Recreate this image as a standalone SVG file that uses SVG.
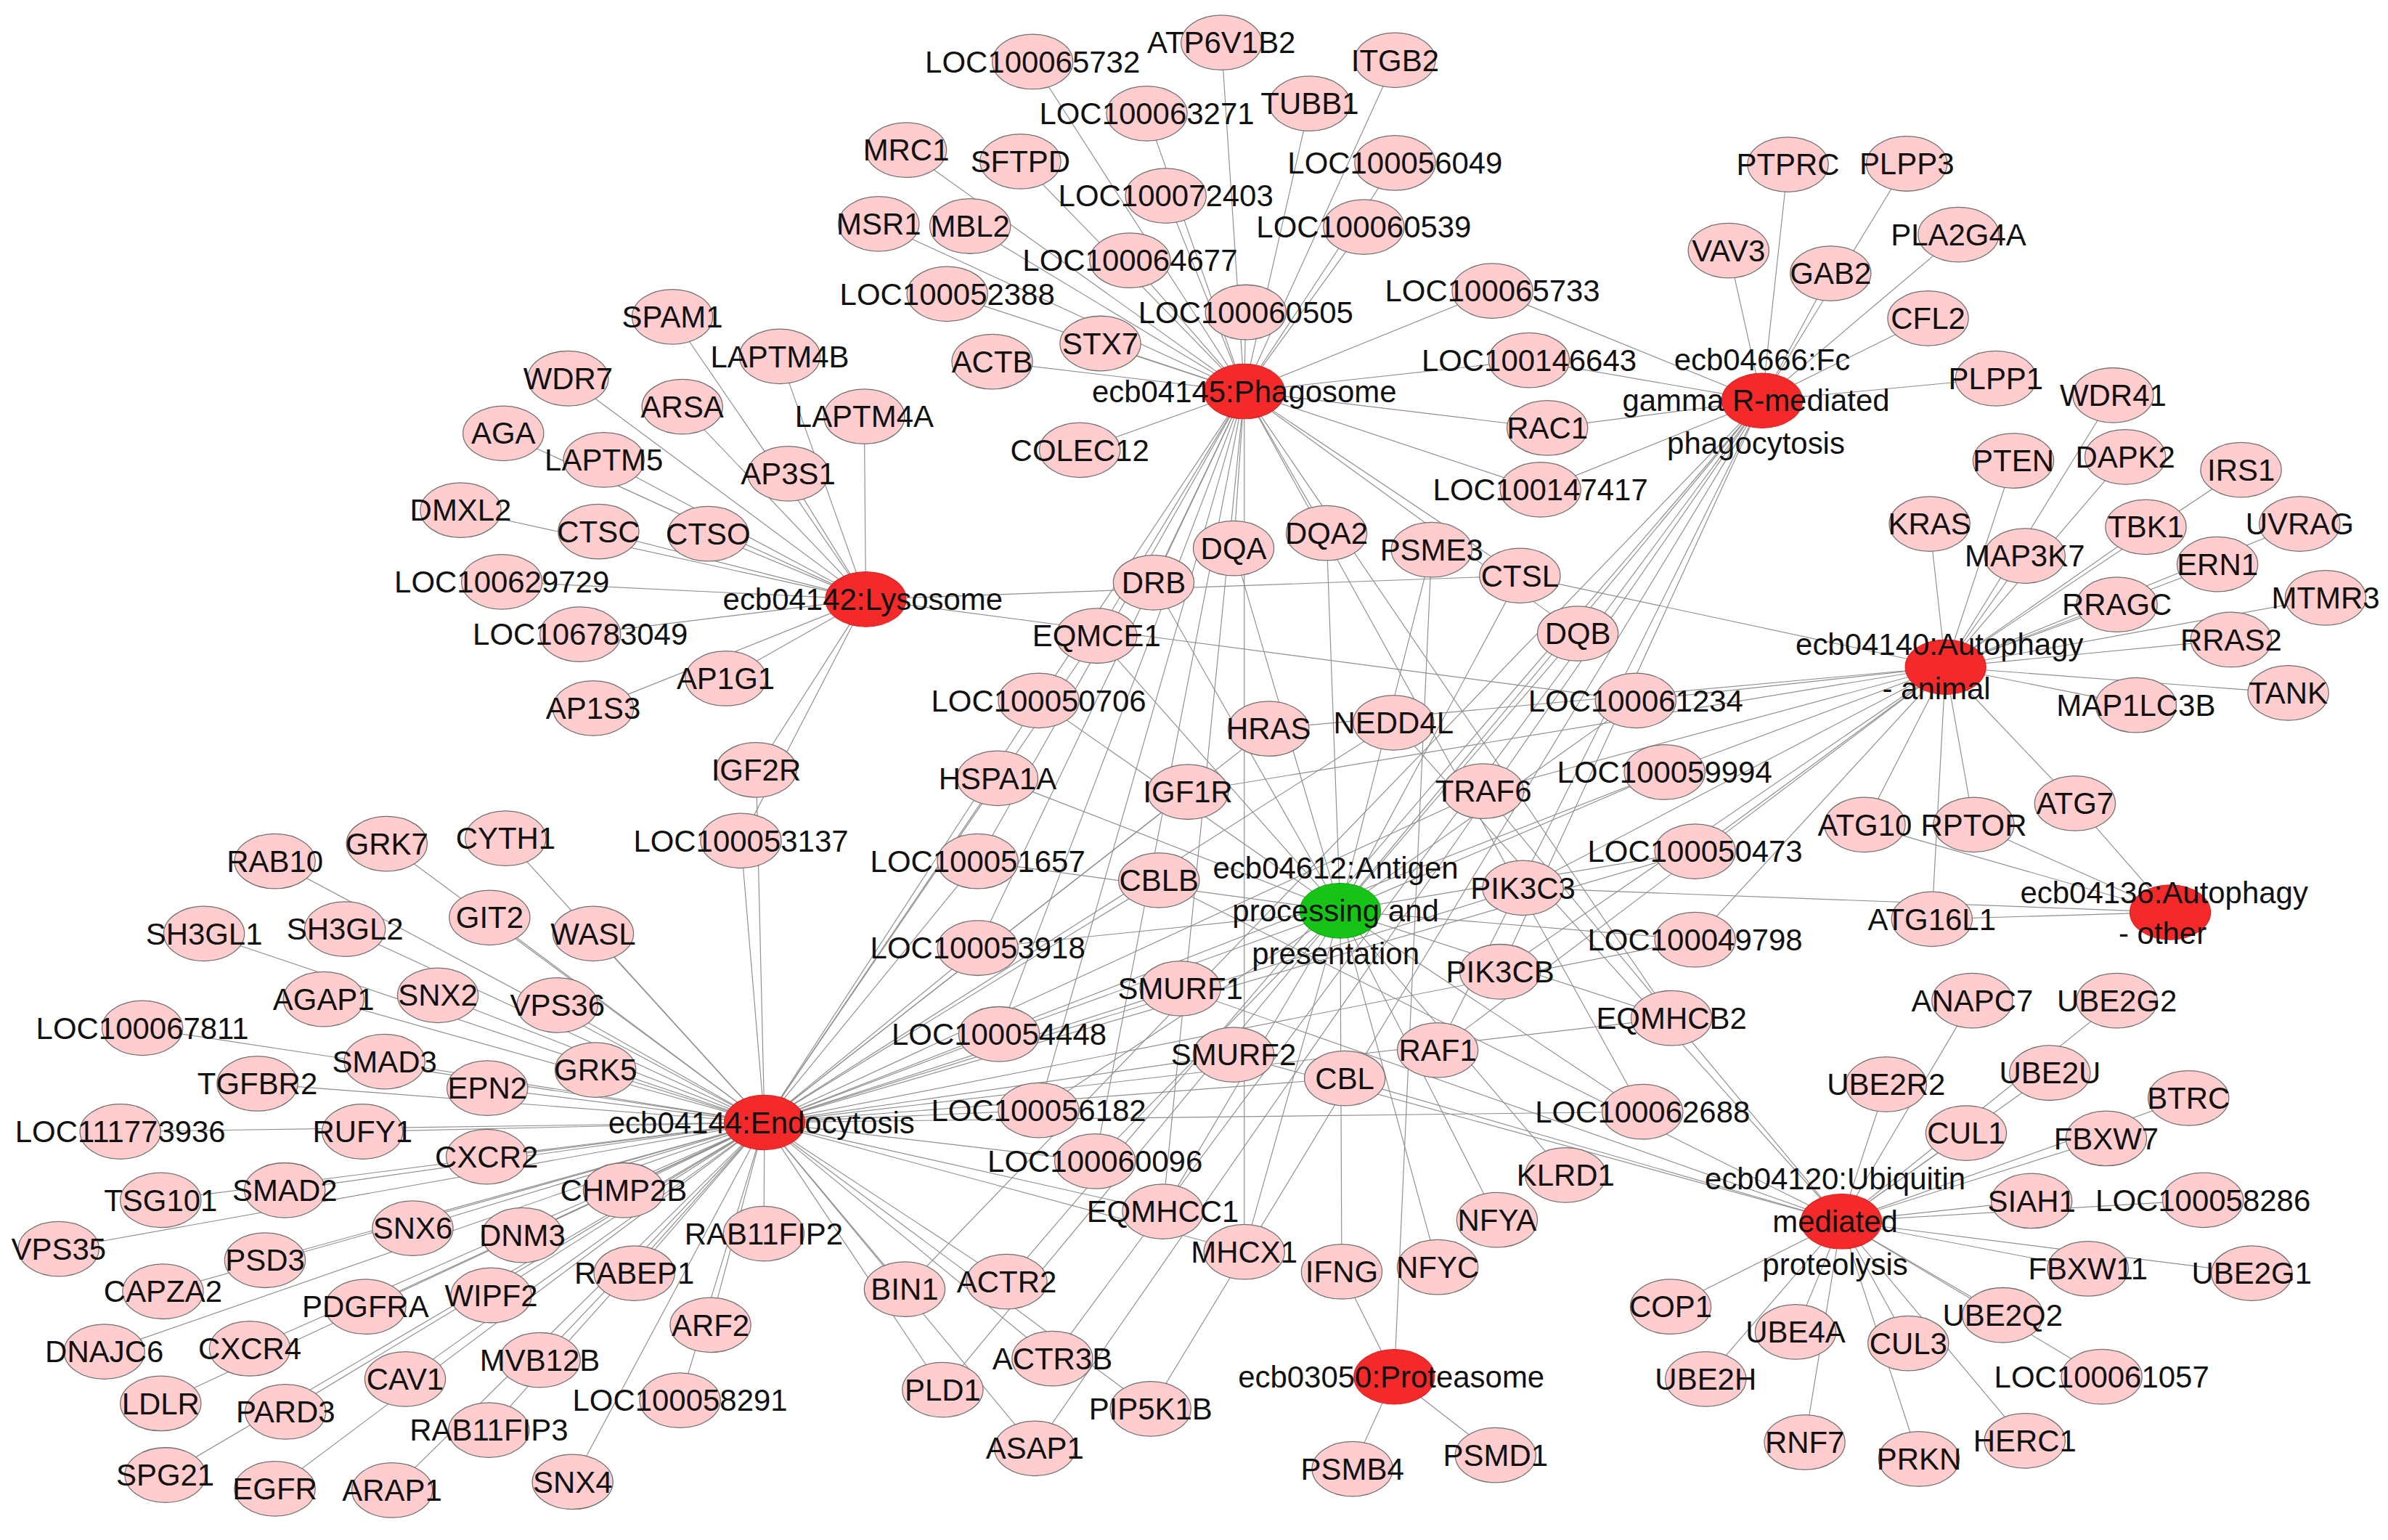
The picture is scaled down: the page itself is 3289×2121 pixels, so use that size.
<svg xmlns="http://www.w3.org/2000/svg" width="3289" height="2121" viewBox="0 0 3289 2121">
<style>
#edges path{stroke:#8e8e8e;stroke-width:.55;fill:none}
.n{fill:#ffcdcd;stroke:#707070;stroke-width:.6}
.h{fill:#f42a2a;stroke:#d42020;stroke-width:.5}
.gr{fill:#16c416;stroke:#10a010;stroke-width:.5}
text{font-family:"Liberation Sans",Arial,sans-serif;font-size:20px;fill:#111;text-anchor:middle}
</style>
<rect width="3289" height="2121" fill="#fff"/>
<g transform="scale(2.09758)">
<g id="edges">
<path d="M678 40.5L817 257"/><path d="M802 28L817 257"/><path d="M916 39.5L817 257"/><path d="M753 74.5L817 257"/><path d="M860 68L817 257"/><path d="M595 98.5L817 257"/><path d="M670 106L817 257"/><path d="M916 107L817 257"/><path d="M765.5 128.5L817 257"/><path d="M577 147L817 257"/><path d="M637 148.5L817 257"/><path d="M895.5 149L817 257"/><path d="M742 171L817 257"/><path d="M622 193L817 257"/><path d="M818 205L817 257"/><path d="M722.5 225.5L817 257"/><path d="M651.5 237.5L817 257"/><path d="M709 295.5L817 257"/><path d="M980 191L817 257"/><path d="M1004 236.5L817 257"/><path d="M1016 281L817 257"/><path d="M1011.5 321.5L817 257"/><path d="M757.5 382.5L817 257"/><path d="M810 360L817 257"/><path d="M871 350L817 257"/><path d="M1036 416L817 257"/><path d="M998 378L817 257"/><path d="M720 417.5L817 257"/><path d="M682 460L817 257"/><path d="M642 565.5L817 257"/><path d="M642 622.5L817 257"/><path d="M1097.5 668.5L817 257"/><path d="M656 679L817 257"/><path d="M1078.5 730L817 257"/><path d="M682 729L817 257"/><path d="M719 762.5L817 257"/><path d="M763.5 795.5L817 257"/><path d="M817 822L817 257"/>
<path d="M980 191L1157 263"/><path d="M1004 236.5L1157 263"/><path d="M1016 281L1157 263"/><path d="M1011.5 321.5L1157 263"/><path d="M1174 108L1157 263"/><path d="M1252 107.5L1157 263"/><path d="M1286 154L1157 263"/><path d="M1135 164.5L1157 263"/><path d="M1202 179.5L1157 263"/><path d="M1266 209L1157 263"/><path d="M1310.5 248.5L1157 263"/><path d="M985 638L1157 263"/><path d="M944 689.5L1157 263"/><path d="M594 846.5L1157 263"/><path d="M661 841.5L1157 263"/><path d="M691 892L1157 263"/><path d="M619 912.5L1157 263"/><path d="M755.5 925L1157 263"/><path d="M679.5 951L1157 263"/>
<path d="M441.5 208L568.5 393.5"/><path d="M512 234L568.5 393.5"/><path d="M373 248.5L568.5 393.5"/><path d="M448 267L568.5 393.5"/><path d="M567.5 273.5L568.5 393.5"/><path d="M330.5 284.5L568.5 393.5"/><path d="M396.5 302L568.5 393.5"/><path d="M517.5 311L568.5 393.5"/><path d="M302.5 335L568.5 393.5"/><path d="M393 349L568.5 393.5"/><path d="M465 350.5L568.5 393.5"/><path d="M329.5 382L568.5 393.5"/><path d="M381 416.5L568.5 393.5"/><path d="M476.5 445.5L568.5 393.5"/><path d="M389.5 465L568.5 393.5"/><path d="M496.5 505.5L568.5 393.5"/><path d="M486.5 552L568.5 393.5"/><path d="M998 378L568.5 393.5"/><path d="M1074 460L568.5 393.5"/>
<path d="M1387.5 259.5L1277.5 438"/><path d="M1322 302.5L1277.5 438"/><path d="M1395.5 300L1277.5 438"/><path d="M1471.5 308.5L1277.5 438"/><path d="M1267 344L1277.5 438"/><path d="M1510 344L1277.5 438"/><path d="M1409 346L1277.5 438"/><path d="M1329.5 365L1277.5 438"/><path d="M1456 370.5L1277.5 438"/><path d="M1390 397L1277.5 438"/><path d="M1527 392.5L1277.5 438"/><path d="M1465 420L1277.5 438"/><path d="M1502.5 455L1277.5 438"/><path d="M1402.5 463L1277.5 438"/><path d="M1362.5 527.5L1277.5 438"/><path d="M1224.5 541.5L1277.5 438"/><path d="M1296 541.5L1277.5 438"/><path d="M1268.5 603.5L1277.5 438"/><path d="M998 378L1277.5 438"/><path d="M1074 460L1277.5 438"/><path d="M833 478.5L1277.5 438"/><path d="M780 520L1277.5 438"/><path d="M974 519.5L1277.5 438"/><path d="M1093 507L1277.5 438"/><path d="M1113 559L1277.5 438"/><path d="M1000 583L1277.5 438"/><path d="M1113 617L1277.5 438"/><path d="M985 638L1277.5 438"/><path d="M944 689.5L1277.5 438"/>
<path d="M1362.5 527.5L1425 599"/><path d="M1224.5 541.5L1425 599"/><path d="M1296 541.5L1425 599"/><path d="M1268.5 603.5L1425 599"/><path d="M1000 583L1425 599"/>
<path d="M757.5 382.5L880 598"/><path d="M810 360L880 598"/><path d="M871 350L880 598"/><path d="M940 361L880 598"/><path d="M998 378L880 598"/><path d="M720 417.5L880 598"/><path d="M1036 416L880 598"/><path d="M682 460L880 598"/><path d="M1074 460L880 598"/><path d="M655 511L880 598"/><path d="M1093 507L880 598"/><path d="M642 565.5L880 598"/><path d="M1113 559L880 598"/><path d="M642 622.5L880 598"/><path d="M1113 617L880 598"/><path d="M1097.5 668.5L880 598"/><path d="M656 679L880 598"/><path d="M1078.5 730L880 598"/><path d="M682 729L880 598"/><path d="M1028 771.5L880 598"/><path d="M719 762.5L880 598"/><path d="M763.5 795.5L880 598"/><path d="M983 801L880 598"/><path d="M817 822L880 598"/><path d="M881 835L880 598"/><path d="M944 832L880 598"/>
<path d="M180.5 565.5L502 737"/><path d="M254 554L502 737"/><path d="M332 550.5L502 737"/><path d="M134 613L502 737"/><path d="M226.5 610L502 737"/><path d="M321.5 602.5L502 737"/><path d="M389.5 613L502 737"/><path d="M212.5 656L502 737"/><path d="M287.5 653.5L502 737"/><path d="M366 660L502 737"/><path d="M93.5 675L502 737"/><path d="M252.5 697L502 737"/><path d="M391 702.5L502 737"/><path d="M169 711.5L502 737"/><path d="M320 714.5L502 737"/><path d="M79 743L502 737"/><path d="M238 743L502 737"/><path d="M319.5 759.5L502 737"/><path d="M105.5 788L502 737"/><path d="M187 781.5L502 737"/><path d="M409.5 781.5L502 737"/><path d="M271 806.5L502 737"/><path d="M343 811L502 737"/><path d="M38.5 820L502 737"/><path d="M501.5 810L502 737"/><path d="M174 827.5L502 737"/><path d="M416.5 836L502 737"/><path d="M107 848L502 737"/><path d="M240 858L502 737"/><path d="M322.5 850.5L502 737"/><path d="M466.5 870L502 737"/><path d="M68.5 887.5L502 737"/><path d="M164 885.5L502 737"/><path d="M354.5 893L502 737"/><path d="M266 905.5L502 737"/><path d="M105.5 921.5L502 737"/><path d="M187.5 927L502 737"/><path d="M446.5 919.5L502 737"/><path d="M321 939L502 737"/><path d="M108.5 968.5L502 737"/><path d="M180.5 977.5L502 737"/><path d="M257.5 978.5L502 737"/><path d="M376 973L502 737"/>
<path d="M496.5 505.5L502 737"/><path d="M486.5 552L502 737"/><path d="M720 417.5L502 737"/><path d="M682 460L502 737"/><path d="M833 478.5L502 737"/><path d="M915 474.5L502 737"/><path d="M655 511L502 737"/><path d="M780 520L502 737"/><path d="M974 519.5L502 737"/><path d="M1093 507L502 737"/><path d="M642 565.5L502 737"/><path d="M761 578L502 737"/><path d="M1113 559L502 737"/><path d="M1000 583L502 737"/><path d="M642 622.5L502 737"/><path d="M1113 617L502 737"/><path d="M775 649L502 737"/><path d="M1097.5 668.5L502 737"/><path d="M656 679L502 737"/><path d="M810 692.5L502 737"/><path d="M883 708L502 737"/><path d="M1078.5 730L502 737"/><path d="M682 729L502 737"/><path d="M719 762.5L502 737"/><path d="M763.5 795.5L502 737"/><path d="M817 822L502 737"/><path d="M594 846.5L502 737"/><path d="M661 841.5L502 737"/><path d="M691 892L502 737"/><path d="M619 912.5L502 737"/><path d="M755.5 925L502 737"/><path d="M679.5 951L502 737"/>
<path d="M1295 657L1209 802"/><path d="M1390 657L1209 802"/><path d="M1238.5 712L1209 802"/><path d="M1346 704.5L1209 802"/><path d="M1437 721L1209 802"/><path d="M1291 744L1209 802"/><path d="M1383 747.5L1209 802"/><path d="M1334 788.5L1209 802"/><path d="M1446.5 788L1209 802"/><path d="M1371 833L1209 802"/><path d="M1478.5 836L1209 802"/><path d="M1097 858L1209 802"/><path d="M1179 874.5L1209 802"/><path d="M1315 863.5L1209 802"/><path d="M1253 882L1209 802"/><path d="M1120 905.5L1209 802"/><path d="M1380 904L1209 802"/><path d="M1185 947L1209 802"/><path d="M1260 958L1209 802"/><path d="M1329.5 946L1209 802"/><path d="M915 474.5L1209 802"/><path d="M974 519.5L1209 802"/><path d="M761 578L1209 802"/><path d="M775 649L1209 802"/><path d="M810 692.5L1209 802"/><path d="M883 708L1209 802"/>
<path d="M888 964.5L915.5 904"/><path d="M982 955.5L915.5 904"/><path d="M940 361L915.5 904"/><path d="M881 835L915.5 904"/>
</g>
<g id="nodes">
<g id="hub-phagosome" transform="translate(817 257)"><ellipse class="h" rx="26.5" ry="18"/><text y="7">ecb04145:Phagosome</text></g>
<g id="hub-fcgamma" transform="translate(1157 263)"><ellipse class="h" rx="26.5" ry="18"/><text y="-20">ecb04666:Fc</text><text x="-4" y="7">gamma R-mediated</text><text x="-4" y="35">phagocytosis</text></g>
<g id="hub-lysosome" transform="translate(568.5 393.5)"><ellipse class="h" rx="26.5" ry="18"/><text x="-2" y="7">ecb04142:Lysosome</text></g>
<g id="hub-autophagy-animal" transform="translate(1277.5 438)"><ellipse class="h" rx="26.5" ry="18"/><text x="-4" y="-8">ecb04140:Autophagy</text><text x="-6" y="21">- animal</text></g>
<g id="hub-autophagy-other" transform="translate(1425 599)"><ellipse class="h" rx="26.5" ry="18"/><text x="-4" y="-6">ecb04136:Autophagy</text><text x="-5" y="21">- other</text></g>
<g id="hub-antigen" transform="translate(880 598)"><ellipse class="gr" rx="26.5" ry="18"/><text x="-3" y="-21">ecb04612:Antigen</text><text x="-3" y="7">processing and</text><text x="-3" y="35">presentation</text></g>
<g id="hub-endocytosis" transform="translate(502 737)"><ellipse class="h" rx="26.5" ry="18"/><text x="-2" y="7">ecb04144:Endocytosis</text></g>
<g id="hub-ubiquitin" transform="translate(1209 802)"><ellipse class="h" rx="26.5" ry="18"/><text x="-4" y="-21">ecb04120:Ubiquitin</text><text x="-4" y="7">mediated</text><text x="-4" y="35">proteolysis</text></g>
<g id="hub-proteasome" transform="translate(915.5 904)"><ellipse class="h" rx="26.5" ry="18"/><text x="-2" y="7">ecb03050:Proteasome</text></g>

<g id="n-LOC100065732" transform="translate(678 40.5)"><ellipse class="n" rx="26.5" ry="18"/><text y="7">LOC100065732</text></g>
<g id="n-ATP6V1B2" transform="translate(802 28)"><ellipse class="n" rx="26.5" ry="18"/><text y="7">ATP6V1B2</text></g>
<g id="n-ITGB2" transform="translate(916 39.5)"><ellipse class="n" rx="26.5" ry="18"/><text y="7">ITGB2</text></g>
<g id="n-LOC100063271" transform="translate(753 74.5)"><ellipse class="n" rx="26.5" ry="18"/><text y="7">LOC100063271</text></g>
<g id="n-TUBB1" transform="translate(860 68)"><ellipse class="n" rx="26.5" ry="18"/><text y="7">TUBB1</text></g>
<g id="n-MRC1" transform="translate(595 98.5)"><ellipse class="n" rx="26.5" ry="18"/><text y="7">MRC1</text></g>
<g id="n-SFTPD" transform="translate(670 106)"><ellipse class="n" rx="26.5" ry="18"/><text y="7">SFTPD</text></g>
<g id="n-LOC100056049" transform="translate(916 107)"><ellipse class="n" rx="26.5" ry="18"/><text y="7">LOC100056049</text></g>
<g id="n-LOC100072403" transform="translate(765.5 128.5)"><ellipse class="n" rx="26.5" ry="18"/><text y="7">LOC100072403</text></g>
<g id="n-MSR1" transform="translate(577 147)"><ellipse class="n" rx="26.5" ry="18"/><text y="7">MSR1</text></g>
<g id="n-MBL2" transform="translate(637 148.5)"><ellipse class="n" rx="26.5" ry="18"/><text y="7">MBL2</text></g>
<g id="n-LOC100060539" transform="translate(895.5 149)"><ellipse class="n" rx="26.5" ry="18"/><text y="7">LOC100060539</text></g>
<g id="n-LOC100064677" transform="translate(742 171)"><ellipse class="n" rx="26.5" ry="18"/><text y="7">LOC100064677</text></g>
<g id="n-LOC100052388" transform="translate(622 193)"><ellipse class="n" rx="26.5" ry="18"/><text y="7">LOC100052388</text></g>
<g id="n-LOC100060505" transform="translate(818 205)"><ellipse class="n" rx="26.5" ry="18"/><text y="7">LOC100060505</text></g>
<g id="n-STX7" transform="translate(722.5 225.5)"><ellipse class="n" rx="26.5" ry="18"/><text y="7">STX7</text></g>
<g id="n-ACTB" transform="translate(651.5 237.5)"><ellipse class="n" rx="26.5" ry="18"/><text y="7">ACTB</text></g>
<g id="n-COLEC12" transform="translate(709 295.5)"><ellipse class="n" rx="26.5" ry="18"/><text y="7">COLEC12</text></g>
<g id="n-LOC100065733" transform="translate(980 191)"><ellipse class="n" rx="26.5" ry="18"/><text y="7">LOC100065733</text></g>
<g id="n-LOC100146643" transform="translate(1004 236.5)"><ellipse class="n" rx="26.5" ry="18"/><text y="7">LOC100146643</text></g>
<g id="n-RAC1" transform="translate(1016 281)"><ellipse class="n" rx="26.5" ry="18"/><text y="7">RAC1</text></g>
<g id="n-LOC100147417" transform="translate(1011.5 321.5)"><ellipse class="n" rx="26.5" ry="18"/><text y="7">LOC100147417</text></g>

<g id="n-PTPRC" transform="translate(1174 108)"><ellipse class="n" rx="26.5" ry="18"/><text y="7">PTPRC</text></g>
<g id="n-PLPP3" transform="translate(1252 107.5)"><ellipse class="n" rx="26.5" ry="18"/><text y="7">PLPP3</text></g>
<g id="n-PLA2G4A" transform="translate(1286 154)"><ellipse class="n" rx="26.5" ry="18"/><text y="7">PLA2G4A</text></g>
<g id="n-VAV3" transform="translate(1135 164.5)"><ellipse class="n" rx="26.5" ry="18"/><text y="7">VAV3</text></g>
<g id="n-GAB2" transform="translate(1202 179.5)"><ellipse class="n" rx="26.5" ry="18"/><text y="7">GAB2</text></g>
<g id="n-CFL2" transform="translate(1266 209)"><ellipse class="n" rx="26.5" ry="18"/><text y="7">CFL2</text></g>
<g id="n-PLPP1" transform="translate(1310.5 248.5)"><ellipse class="n" rx="26.5" ry="18"/><text y="7">PLPP1</text></g>

<g id="n-SPAM1" transform="translate(441.5 208)"><ellipse class="n" rx="26.5" ry="18"/><text y="7">SPAM1</text></g>
<g id="n-LAPTM4B" transform="translate(512 234)"><ellipse class="n" rx="26.5" ry="18"/><text y="7">LAPTM4B</text></g>
<g id="n-WDR7" transform="translate(373 248.5)"><ellipse class="n" rx="26.5" ry="18"/><text y="7">WDR7</text></g>
<g id="n-ARSA" transform="translate(448 267)"><ellipse class="n" rx="26.5" ry="18"/><text y="7">ARSA</text></g>
<g id="n-LAPTM4A" transform="translate(567.5 273.5)"><ellipse class="n" rx="26.5" ry="18"/><text y="7">LAPTM4A</text></g>
<g id="n-AGA" transform="translate(330.5 284.5)"><ellipse class="n" rx="26.5" ry="18"/><text y="7">AGA</text></g>
<g id="n-LAPTM5" transform="translate(396.5 302)"><ellipse class="n" rx="26.5" ry="18"/><text y="7">LAPTM5</text></g>
<g id="n-AP3S1" transform="translate(517.5 311)"><ellipse class="n" rx="26.5" ry="18"/><text y="7">AP3S1</text></g>
<g id="n-DMXL2" transform="translate(302.5 335)"><ellipse class="n" rx="26.5" ry="18"/><text y="7">DMXL2</text></g>
<g id="n-CTSC" transform="translate(393 349)"><ellipse class="n" rx="26.5" ry="18"/><text y="7">CTSC</text></g>
<g id="n-CTSO" transform="translate(465 350.5)"><ellipse class="n" rx="26.5" ry="18"/><text y="7">CTSO</text></g>
<g id="n-LOC100629729" transform="translate(329.5 382)"><ellipse class="n" rx="26.5" ry="18"/><text y="7">LOC100629729</text></g>
<g id="n-LOC106783049" transform="translate(381 416.5)"><ellipse class="n" rx="26.5" ry="18"/><text y="7">LOC106783049</text></g>
<g id="n-AP1G1" transform="translate(476.5 445.5)"><ellipse class="n" rx="26.5" ry="18"/><text y="7">AP1G1</text></g>
<g id="n-AP1S3" transform="translate(389.5 465)"><ellipse class="n" rx="26.5" ry="18"/><text y="7">AP1S3</text></g>
<g id="n-IGF2R" transform="translate(496.5 505.5)"><ellipse class="n" rx="26.5" ry="18"/><text y="7">IGF2R</text></g>
<g id="n-LOC100053137" transform="translate(486.5 552)"><ellipse class="n" rx="26.5" ry="18"/><text y="7">LOC100053137</text></g>

<g id="n-WDR41" transform="translate(1387.5 259.5)"><ellipse class="n" rx="26.5" ry="18"/><text y="7">WDR41</text></g>
<g id="n-PTEN" transform="translate(1322 302.5)"><ellipse class="n" rx="26.5" ry="18"/><text y="7">PTEN</text></g>
<g id="n-DAPK2" transform="translate(1395.5 300)"><ellipse class="n" rx="26.5" ry="18"/><text y="7">DAPK2</text></g>
<g id="n-IRS1" transform="translate(1471.5 308.5)"><ellipse class="n" rx="26.5" ry="18"/><text y="7">IRS1</text></g>
<g id="n-KRAS" transform="translate(1267 344)"><ellipse class="n" rx="26.5" ry="18"/><text y="7">KRAS</text></g>
<g id="n-UVRAG" transform="translate(1510 344)"><ellipse class="n" rx="26.5" ry="18"/><text y="7">UVRAG</text></g>
<g id="n-TBK1" transform="translate(1409 346)"><ellipse class="n" rx="26.5" ry="18"/><text y="7">TBK1</text></g>
<g id="n-MAP3K7" transform="translate(1329.5 365)"><ellipse class="n" rx="26.5" ry="18"/><text y="7">MAP3K7</text></g>
<g id="n-ERN1" transform="translate(1456 370.5)"><ellipse class="n" rx="26.5" ry="18"/><text y="7">ERN1</text></g>
<g id="n-RRAGC" transform="translate(1390 397)"><ellipse class="n" rx="26.5" ry="18"/><text y="7">RRAGC</text></g>
<g id="n-MTMR3" transform="translate(1527 392.5)"><ellipse class="n" rx="26.5" ry="18"/><text y="7">MTMR3</text></g>
<g id="n-RRAS2" transform="translate(1465 420)"><ellipse class="n" rx="26.5" ry="18"/><text y="7">RRAS2</text></g>
<g id="n-TANK" transform="translate(1502.5 455)"><ellipse class="n" rx="26.5" ry="18"/><text y="7">TANK</text></g>
<g id="n-MAP1LC3B" transform="translate(1402.5 463)"><ellipse class="n" rx="26.5" ry="18"/><text y="7">MAP1LC3B</text></g>
<g id="n-ATG7" transform="translate(1362.5 527.5)"><ellipse class="n" rx="26.5" ry="18"/><text y="7">ATG7</text></g>
<g id="n-ATG10" transform="translate(1224.5 541.5)"><ellipse class="n" rx="26.5" ry="18"/><text y="7">ATG10</text></g>
<g id="n-RPTOR" transform="translate(1296 541.5)"><ellipse class="n" rx="26.5" ry="18"/><text y="7">RPTOR</text></g>
<g id="n-ATG16L1" transform="translate(1268.5 603.5)"><ellipse class="n" rx="26.5" ry="18"/><text y="7">ATG16L1</text></g>

<g id="n-DRB" transform="translate(757.5 382.5)"><ellipse class="n" rx="26.5" ry="18"/><text y="7">DRB</text></g>
<g id="n-DQA" transform="translate(810 360)"><ellipse class="n" rx="26.5" ry="18"/><text y="7">DQA</text></g>
<g id="n-DQA2" transform="translate(871 350)"><ellipse class="n" rx="26.5" ry="18"/><text y="7">DQA2</text></g>
<g id="n-PSME3" transform="translate(940 361)"><ellipse class="n" rx="26.5" ry="18"/><text y="7">PSME3</text></g>
<g id="n-CTSL" transform="translate(998 378)"><ellipse class="n" rx="26.5" ry="18"/><text y="7">CTSL</text></g>
<g id="n-EQMCE1" transform="translate(720 417.5)"><ellipse class="n" rx="26.5" ry="18"/><text y="7">EQMCE1</text></g>
<g id="n-DQB" transform="translate(1036 416)"><ellipse class="n" rx="26.5" ry="18"/><text y="7">DQB</text></g>
<g id="n-LOC100050706" transform="translate(682 460)"><ellipse class="n" rx="26.5" ry="18"/><text y="7">LOC100050706</text></g>
<g id="n-LOC100061234" transform="translate(1074 460)"><ellipse class="n" rx="26.5" ry="18"/><text y="7">LOC100061234</text></g>
<g id="n-HRAS" transform="translate(833 478.5)"><ellipse class="n" rx="26.5" ry="18"/><text y="7">HRAS</text></g>
<g id="n-NEDD4L" transform="translate(915 474.5)"><ellipse class="n" rx="26.5" ry="18"/><text y="7">NEDD4L</text></g>
<g id="n-HSPA1A" transform="translate(655 511)"><ellipse class="n" rx="26.5" ry="18"/><text y="7">HSPA1A</text></g>
<g id="n-IGF1R" transform="translate(780 520)"><ellipse class="n" rx="26.5" ry="18"/><text y="7">IGF1R</text></g>
<g id="n-TRAF6" transform="translate(974 519.5)"><ellipse class="n" rx="26.5" ry="18"/><text y="7">TRAF6</text></g>
<g id="n-LOC100059994" transform="translate(1093 507)"><ellipse class="n" rx="26.5" ry="18"/><text y="7">LOC100059994</text></g>
<g id="n-LOC100051657" transform="translate(642 565.5)"><ellipse class="n" rx="26.5" ry="18"/><text y="7">LOC100051657</text></g>
<g id="n-CBLB" transform="translate(761 578)"><ellipse class="n" rx="26.5" ry="18"/><text y="7">CBLB</text></g>
<g id="n-LOC100050473" transform="translate(1113 559)"><ellipse class="n" rx="26.5" ry="18"/><text y="7">LOC100050473</text></g>
<g id="n-PIK3C3" transform="translate(1000 583)"><ellipse class="n" rx="26.5" ry="18"/><text y="7">PIK3C3</text></g>
<g id="n-LOC100053918" transform="translate(642 622.5)"><ellipse class="n" rx="26.5" ry="18"/><text y="7">LOC100053918</text></g>
<g id="n-LOC100049798" transform="translate(1113 617)"><ellipse class="n" rx="26.5" ry="18"/><text y="7">LOC100049798</text></g>
<g id="n-PIK3CB" transform="translate(985 638)"><ellipse class="n" rx="26.5" ry="18"/><text y="7">PIK3CB</text></g>
<g id="n-SMURF1" transform="translate(775 649)"><ellipse class="n" rx="26.5" ry="18"/><text y="7">SMURF1</text></g>
<g id="n-EQMHCB2" transform="translate(1097.5 668.5)"><ellipse class="n" rx="26.5" ry="18"/><text y="7">EQMHCB2</text></g>
<g id="n-LOC100054448" transform="translate(656 679)"><ellipse class="n" rx="26.5" ry="18"/><text y="7">LOC100054448</text></g>
<g id="n-SMURF2" transform="translate(810 692.5)"><ellipse class="n" rx="26.5" ry="18"/><text y="7">SMURF2</text></g>
<g id="n-RAF1" transform="translate(944 689.5)"><ellipse class="n" rx="26.5" ry="18"/><text y="7">RAF1</text></g>
<g id="n-CBL" transform="translate(883 708)"><ellipse class="n" rx="26.5" ry="18"/><text y="7">CBL</text></g>
<g id="n-LOC100062688" transform="translate(1078.5 730)"><ellipse class="n" rx="26.5" ry="18"/><text y="7">LOC100062688</text></g>
<g id="n-LOC100056182" transform="translate(682 729)"><ellipse class="n" rx="26.5" ry="18"/><text y="7">LOC100056182</text></g>
<g id="n-KLRD1" transform="translate(1028 771.5)"><ellipse class="n" rx="26.5" ry="18"/><text y="7">KLRD1</text></g>
<g id="n-LOC100060096" transform="translate(719 762.5)"><ellipse class="n" rx="26.5" ry="18"/><text y="7">LOC100060096</text></g>
<g id="n-EQMHCC1" transform="translate(763.5 795.5)"><ellipse class="n" rx="26.5" ry="18"/><text y="7">EQMHCC1</text></g>
<g id="n-NFYA" transform="translate(983 801)"><ellipse class="n" rx="26.5" ry="18"/><text y="7">NFYA</text></g>
<g id="n-MHCX1" transform="translate(817 822)"><ellipse class="n" rx="26.5" ry="18"/><text y="7">MHCX1</text></g>
<g id="n-IFNG" transform="translate(881 835)"><ellipse class="n" rx="26.5" ry="18"/><text y="7">IFNG</text></g>
<g id="n-NFYC" transform="translate(944 832)"><ellipse class="n" rx="26.5" ry="18"/><text y="7">NFYC</text></g>

<g id="n-ANAPC7" transform="translate(1295 657)"><ellipse class="n" rx="26.5" ry="18"/><text y="7">ANAPC7</text></g>
<g id="n-UBE2G2" transform="translate(1390 657)"><ellipse class="n" rx="26.5" ry="18"/><text y="7">UBE2G2</text></g>
<g id="n-UBE2R2" transform="translate(1238.5 712)"><ellipse class="n" rx="26.5" ry="18"/><text y="7">UBE2R2</text></g>
<g id="n-UBE2U" transform="translate(1346 704.5)"><ellipse class="n" rx="26.5" ry="18"/><text y="7">UBE2U</text></g>
<g id="n-BTRC" transform="translate(1437 721)"><ellipse class="n" rx="26.5" ry="18"/><text y="7">BTRC</text></g>
<g id="n-CUL1" transform="translate(1291 744)"><ellipse class="n" rx="26.5" ry="18"/><text y="7">CUL1</text></g>
<g id="n-FBXW7" transform="translate(1383 747.5)"><ellipse class="n" rx="26.5" ry="18"/><text y="7">FBXW7</text></g>
<g id="n-SIAH1" transform="translate(1334 788.5)"><ellipse class="n" rx="26.5" ry="18"/><text y="7">SIAH1</text></g>
<g id="n-LOC100058286" transform="translate(1446.5 788)"><ellipse class="n" rx="26.5" ry="18"/><text y="7">LOC100058286</text></g>
<g id="n-FBXW11" transform="translate(1371 833)"><ellipse class="n" rx="26.5" ry="18"/><text y="7">FBXW11</text></g>
<g id="n-UBE2G1" transform="translate(1478.5 836)"><ellipse class="n" rx="26.5" ry="18"/><text y="7">UBE2G1</text></g>
<g id="n-COP1" transform="translate(1097 858)"><ellipse class="n" rx="26.5" ry="18"/><text y="7">COP1</text></g>
<g id="n-UBE4A" transform="translate(1179 874.5)"><ellipse class="n" rx="26.5" ry="18"/><text y="7">UBE4A</text></g>
<g id="n-UBE2Q2" transform="translate(1315 863.5)"><ellipse class="n" rx="26.5" ry="18"/><text y="7">UBE2Q2</text></g>
<g id="n-CUL3" transform="translate(1253 882)"><ellipse class="n" rx="26.5" ry="18"/><text y="7">CUL3</text></g>
<g id="n-UBE2H" transform="translate(1120 905.5)"><ellipse class="n" rx="26.5" ry="18"/><text y="7">UBE2H</text></g>
<g id="n-LOC100061057" transform="translate(1380 904)"><ellipse class="n" rx="26.5" ry="18"/><text y="7">LOC100061057</text></g>
<g id="n-RNF7" transform="translate(1185 947)"><ellipse class="n" rx="26.5" ry="18"/><text y="7">RNF7</text></g>
<g id="n-PRKN" transform="translate(1260 958)"><ellipse class="n" rx="26.5" ry="18"/><text y="7">PRKN</text></g>
<g id="n-HERC1" transform="translate(1329.5 946)"><ellipse class="n" rx="26.5" ry="18"/><text y="7">HERC1</text></g>

<g id="n-RAB10" transform="translate(180.5 565.5)"><ellipse class="n" rx="26.5" ry="18"/><text y="7">RAB10</text></g>
<g id="n-GRK7" transform="translate(254 554)"><ellipse class="n" rx="26.5" ry="18"/><text y="7">GRK7</text></g>
<g id="n-CYTH1" transform="translate(332 550.5)"><ellipse class="n" rx="26.5" ry="18"/><text y="7">CYTH1</text></g>
<g id="n-SH3GL1" transform="translate(134 613)"><ellipse class="n" rx="26.5" ry="18"/><text y="7">SH3GL1</text></g>
<g id="n-SH3GL2" transform="translate(226.5 610)"><ellipse class="n" rx="26.5" ry="18"/><text y="7">SH3GL2</text></g>
<g id="n-GIT2" transform="translate(321.5 602.5)"><ellipse class="n" rx="26.5" ry="18"/><text y="7">GIT2</text></g>
<g id="n-WASL" transform="translate(389.5 613)"><ellipse class="n" rx="26.5" ry="18"/><text y="7">WASL</text></g>
<g id="n-AGAP1" transform="translate(212.5 656)"><ellipse class="n" rx="26.5" ry="18"/><text y="7">AGAP1</text></g>
<g id="n-SNX2" transform="translate(287.5 653.5)"><ellipse class="n" rx="26.5" ry="18"/><text y="7">SNX2</text></g>
<g id="n-VPS36" transform="translate(366 660)"><ellipse class="n" rx="26.5" ry="18"/><text y="7">VPS36</text></g>
<g id="n-LOC100067811" transform="translate(93.5 675)"><ellipse class="n" rx="26.5" ry="18"/><text y="7">LOC100067811</text></g>
<g id="n-SMAD3" transform="translate(252.5 697)"><ellipse class="n" rx="26.5" ry="18"/><text y="7">SMAD3</text></g>
<g id="n-GRK5" transform="translate(391 702.5)"><ellipse class="n" rx="26.5" ry="18"/><text y="7">GRK5</text></g>
<g id="n-TGFBR2" transform="translate(169 711.5)"><ellipse class="n" rx="26.5" ry="18"/><text y="7">TGFBR2</text></g>
<g id="n-EPN2" transform="translate(320 714.5)"><ellipse class="n" rx="26.5" ry="18"/><text y="7">EPN2</text></g>
<g id="n-LOC111773936" transform="translate(79 743)"><ellipse class="n" rx="26.5" ry="18"/><text y="7">LOC111773936</text></g>
<g id="n-RUFY1" transform="translate(238 743)"><ellipse class="n" rx="26.5" ry="18"/><text y="7">RUFY1</text></g>
<g id="n-CXCR2" transform="translate(319.5 759.5)"><ellipse class="n" rx="26.5" ry="18"/><text y="7">CXCR2</text></g>
<g id="n-TSG101" transform="translate(105.5 788)"><ellipse class="n" rx="26.5" ry="18"/><text y="7">TSG101</text></g>
<g id="n-SMAD2" transform="translate(187 781.5)"><ellipse class="n" rx="26.5" ry="18"/><text y="7">SMAD2</text></g>
<g id="n-CHMP2B" transform="translate(409.5 781.5)"><ellipse class="n" rx="26.5" ry="18"/><text y="7">CHMP2B</text></g>
<g id="n-SNX6" transform="translate(271 806.5)"><ellipse class="n" rx="26.5" ry="18"/><text y="7">SNX6</text></g>
<g id="n-DNM3" transform="translate(343 811)"><ellipse class="n" rx="26.5" ry="18"/><text y="7">DNM3</text></g>
<g id="n-VPS35" transform="translate(38.5 820)"><ellipse class="n" rx="26.5" ry="18"/><text y="7">VPS35</text></g>
<g id="n-RAB11FIP2" transform="translate(501.5 810)"><ellipse class="n" rx="26.5" ry="18"/><text y="7">RAB11FIP2</text></g>
<g id="n-PSD3" transform="translate(174 827.5)"><ellipse class="n" rx="26.5" ry="18"/><text y="7">PSD3</text></g>
<g id="n-RABEP1" transform="translate(416.5 836)"><ellipse class="n" rx="26.5" ry="18"/><text y="7">RABEP1</text></g>
<g id="n-CAPZA2" transform="translate(107 848)"><ellipse class="n" rx="26.5" ry="18"/><text y="7">CAPZA2</text></g>
<g id="n-PDGFRA" transform="translate(240 858)"><ellipse class="n" rx="26.5" ry="18"/><text y="7">PDGFRA</text></g>
<g id="n-WIPF2" transform="translate(322.5 850.5)"><ellipse class="n" rx="26.5" ry="18"/><text y="7">WIPF2</text></g>
<g id="n-ARF2" transform="translate(466.5 870)"><ellipse class="n" rx="26.5" ry="18"/><text y="7">ARF2</text></g>
<g id="n-DNAJC6" transform="translate(68.5 887.5)"><ellipse class="n" rx="26.5" ry="18"/><text y="7">DNAJC6</text></g>
<g id="n-CXCR4" transform="translate(164 885.5)"><ellipse class="n" rx="26.5" ry="18"/><text y="7">CXCR4</text></g>
<g id="n-MVB12B" transform="translate(354.5 893)"><ellipse class="n" rx="26.5" ry="18"/><text y="7">MVB12B</text></g>
<g id="n-CAV1" transform="translate(266 905.5)"><ellipse class="n" rx="26.5" ry="18"/><text y="7">CAV1</text></g>
<g id="n-LDLR" transform="translate(105.5 921.5)"><ellipse class="n" rx="26.5" ry="18"/><text y="7">LDLR</text></g>
<g id="n-PARD3" transform="translate(187.5 927)"><ellipse class="n" rx="26.5" ry="18"/><text y="7">PARD3</text></g>
<g id="n-LOC100058291" transform="translate(446.5 919.5)"><ellipse class="n" rx="26.5" ry="18"/><text y="7">LOC100058291</text></g>
<g id="n-RAB11FIP3" transform="translate(321 939)"><ellipse class="n" rx="26.5" ry="18"/><text y="7">RAB11FIP3</text></g>
<g id="n-SPG21" transform="translate(108.5 968.5)"><ellipse class="n" rx="26.5" ry="18"/><text y="7">SPG21</text></g>
<g id="n-EGFR" transform="translate(180.5 977.5)"><ellipse class="n" rx="26.5" ry="18"/><text y="7">EGFR</text></g>
<g id="n-ARAP1" transform="translate(257.5 978.5)"><ellipse class="n" rx="26.5" ry="18"/><text y="7">ARAP1</text></g>
<g id="n-SNX4" transform="translate(376 973)"><ellipse class="n" rx="26.5" ry="18"/><text y="7">SNX4</text></g>
<g id="n-BIN1" transform="translate(594 846.5)"><ellipse class="n" rx="26.5" ry="18"/><text y="7">BIN1</text></g>
<g id="n-ACTR2" transform="translate(661 841.5)"><ellipse class="n" rx="26.5" ry="18"/><text y="7">ACTR2</text></g>
<g id="n-ACTR3B" transform="translate(691 892)"><ellipse class="n" rx="26.5" ry="18"/><text y="7">ACTR3B</text></g>
<g id="n-PLD1" transform="translate(619 912.5)"><ellipse class="n" rx="26.5" ry="18"/><text y="7">PLD1</text></g>
<g id="n-PIP5K1B" transform="translate(755.5 925)"><ellipse class="n" rx="26.5" ry="18"/><text y="7">PIP5K1B</text></g>
<g id="n-ASAP1" transform="translate(679.5 951)"><ellipse class="n" rx="26.5" ry="18"/><text y="7">ASAP1</text></g>

<g id="n-PSMB4" transform="translate(888 964.5)"><ellipse class="n" rx="26.5" ry="18"/><text y="7">PSMB4</text></g>
<g id="n-PSMD1" transform="translate(982 955.5)"><ellipse class="n" rx="26.5" ry="18"/><text y="7">PSMD1</text></g>
</g>
</g>
</svg>
